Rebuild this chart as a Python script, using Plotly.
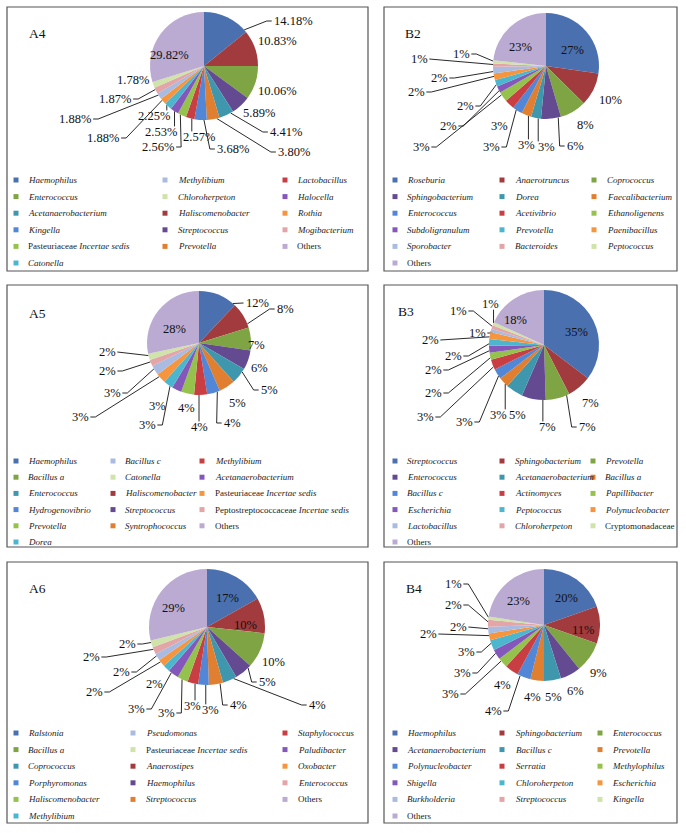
import math
import plotly.graph_objects as go

W, H = 686, 833
FONT = "Liberation Serif"

# Excel-like slice colours (slice order)
PALETTE = ["#4A70AF", "#A23B3E", "#7EA443", "#644A91", "#3E97AD", "#E07F30",
           "#5286D6", "#C93E43", "#95C24D", "#8358BA", "#4DB6CF", "#F5963F",
           "#AABBE1", "#E3A5A7", "#CFE3AB", "#BBAAD1"]

# ---------------- data (slice order, clockwise from 12 o'clock) ----------------
A4_names = ["Haemophilus", "Haliscomenobacter", "Enterococcus", "Streptococcus",
            "Acetanaerobacterium", "Prevotella", "Kingella", "Lactobacillus",
            "Pasteuriaceae Incertae sedis", "Halocella", "Catonella", "Rothia",
            "Methylibium", "Mogibacterium", "Chloroherpeton", "Others"]
A4_values = [14.18, 10.83, 10.06, 5.89, 4.41, 3.80, 3.68, 2.57, 2.56, 2.53, 2.25,
             1.88, 1.88, 1.87, 1.78, 29.82]
A4_labels = ["14.18%", "10.83%", "10.06%", "5.89%", "4.41%", "3.80%", "3.68%", "2.57%",
             "2.56%", "2.53%", "2.25%", "1.88%", "1.88%", "1.87%", "1.78%", "29.82%"]

A5_names = ["Haemophilus", "Haliscomenobacter", "Bacillus a", "Streptococcus",
            "Enterococcus", "Syntrophococcus", "Hydrogenovibrio", "Methylibium",
            "Prevotella", "Acetanaerobacterium", "Dorea", "Pasteuriaceae Incertae sedis",
            "Bacillus c", "Peptostreptococcaceae Incertae sedis", "Catonella", "Others"]
A5_values = [12, 8, 7, 6, 5, 5, 4, 4, 4, 3, 3, 3, 3, 2, 2, 28]

A6_names = ["Ralstonia", "Anaerostipes", "Bacillus a", "Haemophilus", "Coprococcus",
            "Streptococcus", "Porphyromonas", "Staphylococcus", "Haliscomenobacter",
            "Paludibacter", "Methylibium", "Oxobacter", "Pseudomonas", "Enterococcus",
            "Pasteuriaceae Incertae sedis", "Others"]
A6_values = [17, 10, 10, 5, 4, 4, 3, 3, 3, 3, 2, 2, 2, 2, 2, 29]

B2_names = ["Roseburia", "Anaerotruncus", "Coprococcus", "Sphingobacterium", "Dorea",
            "Faecalibacterium", "Enterococcus", "Acetivibrio", "Ethanoligenens",
            "Subdoligranulum", "Prevotella", "Paenibacillus", "Sporobacter",
            "Bacteroides", "Peptococcus", "Others"]
B2_values = [27, 10, 8, 6, 3, 3, 3, 3, 3, 2, 2, 2, 2, 1, 1, 23]

B3_names = ["Streptococcus", "Sphingobacterium", "Prevotella", "Enterococcus",
            "Acetanaerobacterium", "Bacillus a", "Bacillus c", "Actinomyces",
            "Papillibacter", "Escherichia", "Peptococcus", "Polynucleobacter",
            "Lactobacillus", "Chloroherpeton", "Cryptomonadaceae", "Others"]
B3_values = [35, 7, 7, 7, 5, 3, 3, 3, 2, 2, 2, 2, 1, 1, 1, 18]

B4_names = ["Haemophilus", "Sphingobacterium", "Enterococcus", "Acetanaerobacterium",
            "Bacillus c", "Prevotella", "Polynucleobacter", "Serratia", "Methylophilus",
            "Shigella", "Chloroherpeton", "Escherichia", "Burkholderia", "Streptococcus",
            "Kingella", "Others"]
B4_values = [20, 11, 9, 6, 5, 4, 4, 4, 3, 3, 3, 2, 2, 2, 1, 23]

# legend display order (row-major, 3 columns) as slice indices
A_LEGEND_ORDER = [0, 12, 7, 2, 14, 9, 4, 1, 11, 6, 3, 13, 8, 5, 15, 10]
B_LEGEND_ORDER = list(range(16))

# ---------------- layout geometry (pixels) ----------------
A_BOX_X = (7, 368)
B_BOX_X = (384, 677)
ROW_BOX_Y = [(7, 271), (285, 547), (562, 823)]
ROW_LEGEND_Y0 = [180, 461, 733]
ROW_LEGEND_PITCH = [16.6, 16.2, 16.6]

A4_SQ_X, A4_TX_X = [16, 165, 285], [26, 176, 295]
A5_SQ_X, A5_TX_X = [16, 113, 202], [26, 123, 213]
A6_SQ_X, A6_TX_X = [16, 133, 285], [26, 144, 296]
B2_SQ_X, B2_TX_X = [395, 502, 594], [405, 513, 605]
B3_SQ_X, B3_TX_X = [395, 502, 593], [405, 513, 603]
B4_SQ_X, B4_TX_X = [395, 502, 600], [405, 514, 610]

# label positions (pixel centres) and leader-line flags, slice order
A4_lx = [293, 277, 277, 259, 286, 294, 233, 199, 158, 161, 154, 103, 75, 115, 133, 169]
A4_ly = [21, 41, 91, 113, 132, 152, 149, 137, 147, 132, 116, 138, 119, 99, 80, 55]
A4_ld = [1, 0, 0, 0, 1, 1, 1, 1, 1, 1, 1, 1, 1, 1, 0, 0]

A5_lx = [257, 285, 256, 259, 269, 237, 232, 199, 186, 157, 147, 80, 112, 107, 107, 174]
A5_ly = [303, 309, 345, 368, 390, 403, 423, 427, 408, 406, 425, 417, 393, 371, 352, 329]
A5_ld = [1, 1, 0, 0, 1, 0, 1, 1, 0, 0, 1, 1, 1, 1, 1, 0]

A6_lx = [227, 245, 273, 267, 317, 238, 210, 192, 166, 136, 154, 94, 121, 91, 127, 173]
A6_ly = [598, 625, 662, 682, 705, 705, 710, 706, 713, 709, 684, 692, 672, 657, 644, 608]
A6_ld = [0, 0, 0, 1, 1, 1, 1, 1, 1, 1, 0, 1, 1, 1, 1, 0]

B2_lx = [572, 610, 585, 575, 546, 526, 491, 499, 421, 448, 465, 416, 439, 419, 461, 520]
B2_ly = [50, 100, 125, 146, 147, 145, 147, 126, 147, 126, 106, 92, 78, 59, 54, 47]
B2_ld = [0, 0, 0, 1, 1, 1, 1, 0, 1, 1, 1, 1, 1, 1, 1, 0]

B3_lx = [576, 590, 587, 547, 517, 498, 464, 425, 433, 433, 453, 430, 477, 458, 490, 515]
B3_ly = [332, 403, 427, 427, 415, 415, 422, 417, 393, 370, 356, 340, 333, 311, 304, 320]
B3_ld = [0, 0, 1, 1, 0, 1, 1, 1, 1, 1, 1, 1, 1, 1, 1, 0]

B4_lx = [566, 583, 598, 575, 553, 532, 493, 502, 450, 462, 466, 428, 458, 453, 453, 518]
B4_ly = [598, 630, 673, 691, 697, 697, 711, 685, 694, 673, 652, 634, 627, 605, 584, 601]
B4_ld = [0, 0, 0, 0, 0, 0, 1, 0, 1, 1, 1, 1, 1, 1, 1, 0]


def pct(values):
    tot = sum(values)
    return [f"{round(v / tot * 100)}%" for v in values]


PANELS = [
    dict(title="A4", names=A4_names, values=A4_values, labels=A4_labels, lx=A4_lx, ly=A4_ly,
         ld=A4_ld, center=(204, 66), r=54, box_x=A_BOX_X, row=0, title_xy=(37, 33),
         order=A_LEGEND_ORDER, sq=A4_SQ_X, tx=A4_TX_X),
    dict(title="B2", names=B2_names, values=B2_values, labels=None, lx=B2_lx, ly=B2_ly,
         ld=B2_ld, center=(546, 66), r=53, box_x=B_BOX_X, row=0, title_xy=(413, 33),
         order=B_LEGEND_ORDER, sq=B2_SQ_X, tx=B2_TX_X),
    dict(title="A5", names=A5_names, values=A5_values, labels=None, lx=A5_lx, ly=A5_ly,
         ld=A5_ld, center=(199, 343), r=52, box_x=A_BOX_X, row=1, title_xy=(37, 313),
         order=A_LEGEND_ORDER, sq=A5_SQ_X, tx=A5_TX_X),
    dict(title="B3", names=B3_names, values=B3_values, labels=None, lx=B3_lx, ly=B3_ly,
         ld=B3_ld, center=(544, 345), r=55, box_x=B_BOX_X, row=1, title_xy=(406, 311),
         order=B_LEGEND_ORDER, sq=B3_SQ_X, tx=B3_TX_X),
    dict(title="A6", names=A6_names, values=A6_values, labels=None, lx=A6_lx, ly=A6_ly,
         ld=A6_ld, center=(207, 627), r=58, box_x=A_BOX_X, row=2, title_xy=(37, 588),
         order=A_LEGEND_ORDER, sq=A6_SQ_X, tx=A6_TX_X),
    dict(title="B4", names=B4_names, values=B4_values, labels=None, lx=B4_lx, ly=B4_ly,
         ld=B4_ld, center=(544, 625), r=56, box_x=B_BOX_X, row=2, title_xy=(414, 588),
         order=B_LEGEND_ORDER, sq=B4_SQ_X, tx=B4_TX_X),
]

LABEL_FS = 12.5
LEGEND_FS = 9.0
TITLE_FS = 13.5


def text_width(s, fs):
    w = 0
    for ch in s:
        if ch.isdigit():
            w += 0.5
        elif ch == ".":
            w += 0.25
        elif ch == "%":
            w += 0.833
        else:
            w += 0.5
    return w * fs


def fmt(name):
    if name == "Others":
        return name
    if "Incertae sedis" in name:
        fam = name.replace(" Incertae sedis", "")
        return f"{fam} <i>Incertae sedis</i>"
    if name.endswith("aceae"):
        return name
    return f"<i>{name}</i>"


def leader_path(cx, cy, r, f0, f1, lx, ly, text, fs):
    w = text_width(text, fs)
    a0, a1 = f0 * 360.0, f1 * 360.0
    span = a1 - a0
    inset = min(0.3 * span, 3.0)
    ang = math.degrees(math.atan2(lx - cx, -(ly - cy))) % 360
    ang = min(max(ang, a0 + inset), a1 - inset)
    px = cx + r * math.sin(math.radians(ang))
    py = cy - r * math.cos(math.radians(ang))
    x0, x1 = lx - w / 2, lx + w / 2
    if x0 <= px <= x1:
        ty = ly - fs * 0.45 if py < ly else ly + fs * 0.45
        return [px, px], [py, ty]
    if px > x1:
        return [px, x1 + 7, x1 + 2], [py, ly, ly]
    return [px, x0 - 7, x0 - 2], [py, ly, ly]


fig = go.Figure()
annotations = []
shapes = []

for p in PANELS:
    cx, cy = p["center"]
    r = p["r"]
    vals = p["values"]
    labels = p["labels"] or pct(vals)
    n = len(vals)
    colors = PALETTE[:n]

    # pie
    fig.add_trace(go.Pie(
        labels=p["names"], values=vals, sort=False, direction="clockwise", rotation=0,
        marker=dict(colors=colors, line=dict(width=0)),
        textinfo="none", hoverinfo="label+percent", showlegend=False,
        domain=dict(x=[(cx - r) / W, (cx + r) / W], y=[(H - cy - r) / H, (H - cy + r) / H]),
    ))

    # percentage labels and leader lines
    tot = sum(vals)
    cum = 0.0
    lxs, lys = [], []
    for i, v in enumerate(vals):
        f0 = cum / tot
        cum += v
        f1 = cum / tot
        annotations.append(dict(x=p["lx"][i], y=p["ly"][i], xref="x", yref="y",
                                text=labels[i], showarrow=False,
                                font=dict(family=FONT, size=LABEL_FS, color="#111111")))
        if p["ld"][i]:
            xs, ys = leader_path(cx, cy, r, f0, f1, p["lx"][i], p["ly"][i], labels[i], LABEL_FS)
            lxs += xs + [None]
            lys += ys + [None]
    fig.add_trace(go.Scatter(x=lxs, y=lys, mode="lines", line=dict(color="#111111", width=0.9),
                             hoverinfo="skip", showlegend=False))

    # panel title
    annotations.append(dict(x=p["title_xy"][0], y=p["title_xy"][1], xref="x", yref="y",
                            text=p["title"], showarrow=False,
                            font=dict(family=FONT, size=TITLE_FS, color="#111111")))

    # panel frame
    bx0, bx1 = p["box_x"]
    by0, by1 = ROW_BOX_Y[p["row"]]
    shapes.append(dict(type="rect", xref="x", yref="y", x0=bx0, x1=bx1, y0=by0, y1=by1,
                       line=dict(color="#555555", width=1.2), fillcolor="rgba(0,0,0,0)"))

    # legend (3 columns, row-major)
    sqx, sqy, sqc = [], [], []
    y0 = ROW_LEGEND_Y0[p["row"]]
    pitch = ROW_LEGEND_PITCH[p["row"]]
    for k, idx in enumerate(p["order"]):
        row, col = divmod(k, 3)
        yy = y0 + row * pitch
        sqx.append(p["sq"][col])
        sqy.append(yy)
        sqc.append(colors[idx])
        annotations.append(dict(x=p["tx"][col], y=yy, xref="x", yref="y", xanchor="left",
                                text=fmt(p["names"][idx]), showarrow=False,
                                font=dict(family=FONT, size=LEGEND_FS, color="#222222")))
    fig.add_trace(go.Scatter(x=sqx, y=sqy, mode="markers",
                             marker=dict(symbol="square", size=5, color=sqc, line=dict(width=0)),
                             hoverinfo="skip", showlegend=False))

fig.update_layout(
    width=W, height=H, margin=dict(l=0, r=0, t=0, b=0),
    paper_bgcolor="white", plot_bgcolor="white",
    xaxis=dict(range=[0, W], visible=False, fixedrange=True, domain=[0, 1]),
    yaxis=dict(range=[H, 0], visible=False, fixedrange=True, domain=[0, 1]),
    annotations=annotations, shapes=shapes, showlegend=False,
)

fig.write_html("out.html", config={"displayModeBar": False},
               post_script="document.body.style.margin='0px';document.body.style.overflow='hidden';")
